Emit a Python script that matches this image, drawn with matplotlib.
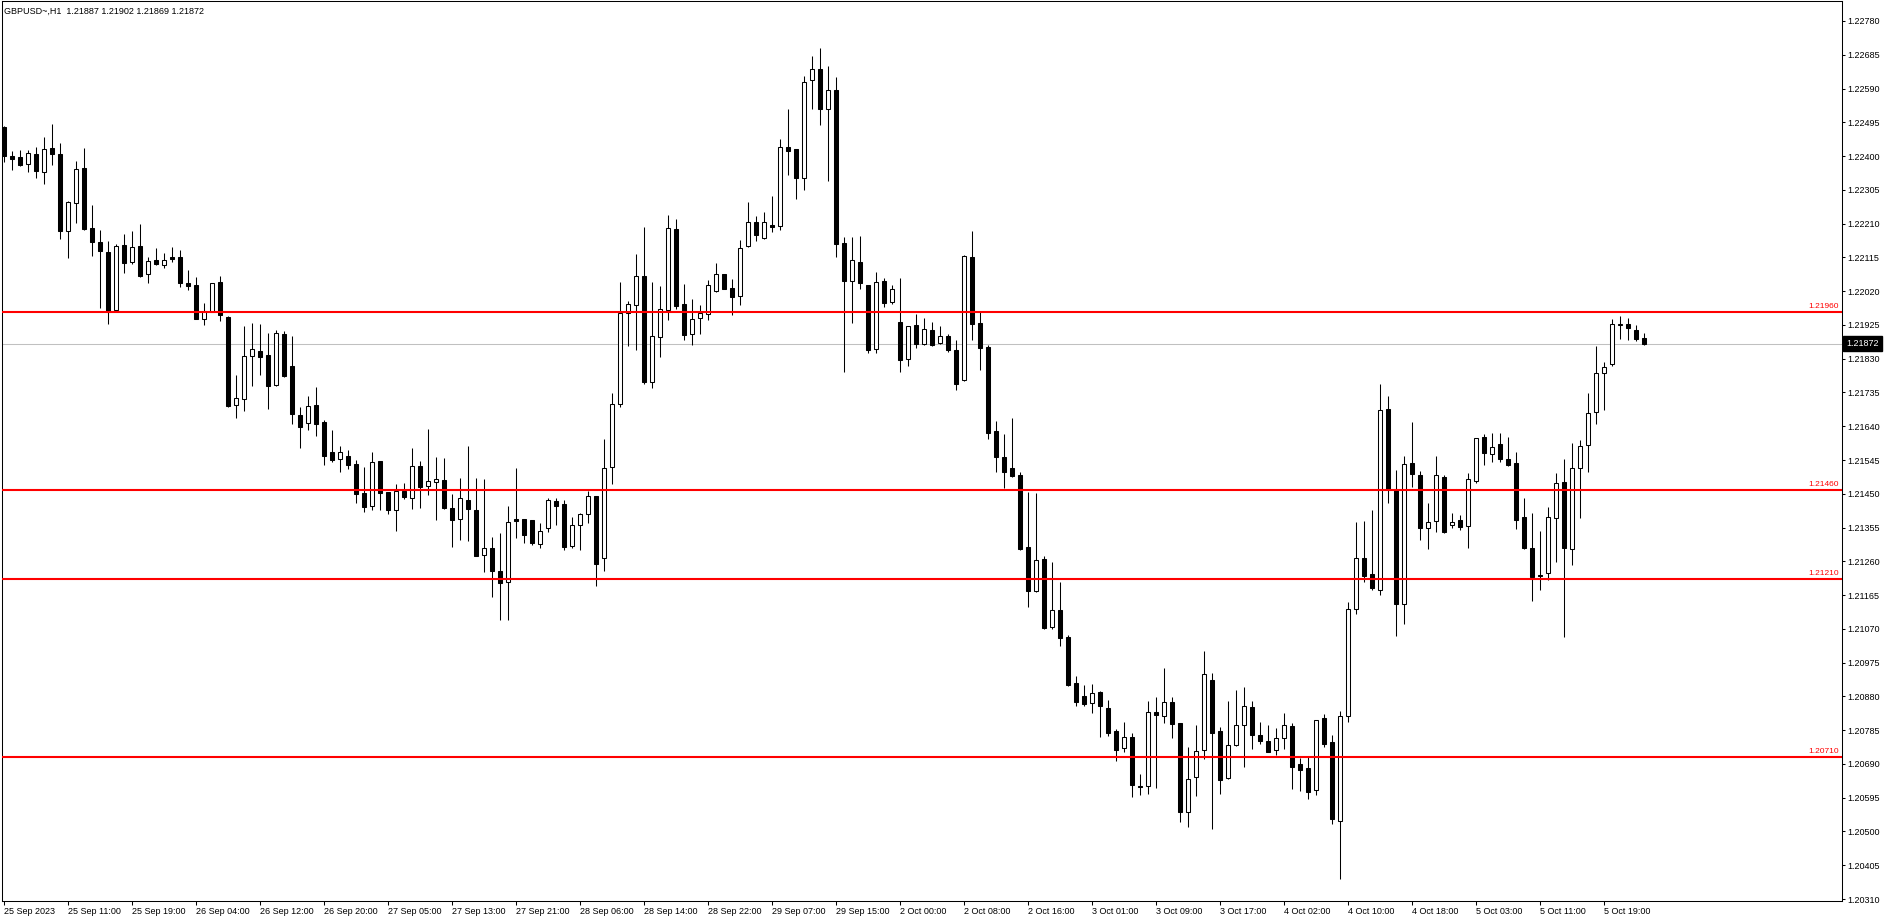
import matplotlib
matplotlib.use('Agg')
import matplotlib.pyplot as plt
import matplotlib.transforms as mtransforms
import numpy as np

plt.rcParams['font.family'] = ['Liberation Sans', 'DejaVu Sans']

# ---- data (GBPUSD H1) ----
header = 'GBPUSD~,H1  1.21887 1.21902 1.21869 1.21872'

opens = [
    1.22482, 1.22400, 1.22397, 1.22377, 1.22406, 1.22356, 1.22423, 1.22406, 1.22190, 1.22269,
    1.22366, 1.22197, 1.22158, 1.22130, 1.21968, 1.22150, 1.22103, 1.22147, 1.22069, 1.22108,
    1.22094, 1.22116, 1.22116, 1.22043, 1.22037, 1.21941, 1.21962, 1.22046, 1.21948, 1.21699,
    1.21716, 1.21837, 1.21852, 1.21840, 1.21756, 1.21900, 1.21809, 1.21672, 1.21648, 1.21700,
    1.21652, 1.21568, 1.21547, 1.21556, 1.21534, 1.21452, 1.21416, 1.21542, 1.21455, 1.21404,
    1.21458, 1.21437, 1.21527, 1.21471, 1.21482, 1.21489, 1.21409, 1.21378, 1.21432, 1.21404,
    1.21277, 1.21297, 1.21232, 1.21201, 1.21379, 1.21379, 1.21376, 1.21310, 1.21353, 1.21430,
    1.21421, 1.21304, 1.21361, 1.21392, 1.21443, 1.21269, 1.21525, 1.21702, 1.21958, 1.21980,
    1.22063, 1.21764, 1.21890, 1.21966, 1.22195, 1.21983, 1.21900, 1.21944, 1.21957, 1.22021,
    1.22067, 1.22028, 1.22006, 1.22146, 1.22214, 1.22170, 1.22206, 1.22202, 1.22425, 1.22420,
    1.22339, 1.22613, 1.22644, 1.22532, 1.22585, 1.22155, 1.22048, 1.22101, 1.22037, 1.21856,
    1.22048, 1.21989, 1.21933, 1.21828, 1.21924, 1.21871, 1.21911, 1.21873, 1.21893, 1.21854,
    1.21769, 1.22116, 1.21930, 1.21863, 1.21626, 1.21553, 1.21522, 1.21503, 1.21299, 1.21177,
    1.21266, 1.21074, 1.21122, 1.21046, 1.20917, 1.20880, 1.20861, 1.20892, 1.20847, 1.20783,
    1.20734, 1.20765, 1.20628, 1.20627, 1.20836, 1.20824, 1.20863, 1.20804, 1.20556, 1.20652,
    1.20728, 1.20925, 1.20782, 1.20650, 1.20742, 1.20799, 1.20849, 1.20771, 1.20755, 1.20728,
    1.20762, 1.20796, 1.20690, 1.20679, 1.20616, 1.20818, 1.20751, 1.20529, 1.20824, 1.21125,
    1.21269, 1.21224, 1.21178, 1.21689, 1.21463, 1.21141, 1.21537, 1.21503, 1.21353, 1.21373,
    1.21497, 1.21361, 1.21376, 1.21359, 1.21487, 1.21610, 1.21561, 1.21590, 1.21547, 1.21537,
    1.21385, 1.21297, 1.21222, 1.21226, 1.21381, 1.21483, 1.21296, 1.21522, 1.21586, 1.21679,
    1.21789, 1.21814, 1.21925, 1.21928, 1.21912, 1.21887,
]
highs = [
    1.22485, 1.22414, 1.22418, 1.22417, 1.22426, 1.22454, 1.22490, 1.22437, 1.22274, 1.22386,
    1.22423, 1.22262, 1.22191, 1.22161, 1.22153, 1.22181, 1.22189, 1.22209, 1.22116, 1.22141,
    1.22127, 1.22144, 1.22136, 1.22080, 1.22060, 1.21988, 1.22043, 1.22063, 1.21950, 1.21784,
    1.21922, 1.21930, 1.21928, 1.21901, 1.21911, 1.21909, 1.21894, 1.21694, 1.21725, 1.21750,
    1.21657, 1.21629, 1.21584, 1.21573, 1.21545, 1.21525, 1.21568, 1.21543, 1.21456, 1.21477,
    1.21479, 1.21578, 1.21542, 1.21631, 1.21553, 1.21550, 1.21449, 1.21494, 1.21584, 1.21494,
    1.21492, 1.21328, 1.21339, 1.21415, 1.21522, 1.21380, 1.21377, 1.21367, 1.21437, 1.21437,
    1.21433, 1.21384, 1.21396, 1.21458, 1.21444, 1.21604, 1.21734, 1.22046, 1.21992, 1.22125,
    1.22201, 1.22046, 1.22035, 1.22234, 1.22223, 1.22039, 1.21997, 1.21980, 1.22051, 1.22099,
    1.22068, 1.22053, 1.22163, 1.22271, 1.22231, 1.22243, 1.22288, 1.22448, 1.22532, 1.22421,
    1.22625, 1.22682, 1.22704, 1.22653, 1.22622, 1.22172, 1.22172, 1.22175, 1.22038, 1.22074,
    1.22056, 1.22038, 1.22056, 1.21923, 1.21955, 1.21944, 1.21933, 1.21922, 1.21899, 1.21883,
    1.22122, 1.22189, 1.21961, 1.21869, 1.21655, 1.21618, 1.21663, 1.21510, 1.21455, 1.21452,
    1.21275, 1.21258, 1.21203, 1.21053, 1.20937, 1.20912, 1.20915, 1.20895, 1.20870, 1.20788,
    1.20808, 1.20776, 1.20662, 1.20867, 1.20878, 1.20960, 1.20878, 1.20805, 1.20738, 1.20800,
    1.21008, 1.20946, 1.20793, 1.20867, 1.20898, 1.20906, 1.20867, 1.20808, 1.20800, 1.20791,
    1.20833, 1.20805, 1.20707, 1.20710, 1.20814, 1.20830, 1.20771, 1.20839, 1.21146, 1.21371,
    1.21373, 1.21404, 1.21759, 1.21725, 1.21517, 1.21556, 1.21652, 1.21514, 1.21424, 1.21556,
    1.21503, 1.21396, 1.21390, 1.21508, 1.21607, 1.21618, 1.21621, 1.21622, 1.21610, 1.21568,
    1.21438, 1.21396, 1.21345, 1.21413, 1.21508, 1.21548, 1.21593, 1.21601, 1.21734, 1.21866,
    1.21821, 1.21942, 1.21950, 1.21945, 1.21925, 1.21902,
]
lows = [
    1.22384, 1.22362, 1.22373, 1.22356, 1.22339, 1.22322, 1.22375, 1.22168, 1.22114, 1.22213,
    1.22193, 1.22120, 1.21973, 1.21928, 1.21964, 1.22072, 1.22097, 1.22061, 1.22044, 1.22094,
    1.22086, 1.22103, 1.22033, 1.22024, 1.21941, 1.21925, 1.21960, 1.21937, 1.21694, 1.21662,
    1.21684, 1.21753, 1.21784, 1.21689, 1.21754, 1.21779, 1.21647, 1.21580, 1.21629, 1.21613,
    1.21532, 1.21539, 1.21512, 1.21520, 1.21425, 1.21400, 1.21405, 1.21405, 1.21393, 1.21346,
    1.21435, 1.21406, 1.21411, 1.21447, 1.21377, 1.21406, 1.21299, 1.21321, 1.21318, 1.21274,
    1.21230, 1.21159, 1.21095, 1.21095, 1.21326, 1.21312, 1.21306, 1.21298, 1.21343, 1.21362,
    1.21293, 1.21298, 1.21293, 1.21369, 1.21191, 1.21234, 1.21478, 1.21695, 1.21867, 1.21855,
    1.21758, 1.21747, 1.21836, 1.21940, 1.21970, 1.21883, 1.21868, 1.21900, 1.21940, 1.22019,
    1.22025, 1.21952, 1.21982, 1.22145, 1.22160, 1.22168, 1.22187, 1.22193, 1.22348, 1.22280,
    1.22305, 1.22533, 1.22487, 1.22329, 1.22115, 1.21793, 1.21931, 1.22027, 1.21847, 1.21847,
    1.21975, 1.21985, 1.21793, 1.21810, 1.21861, 1.21869, 1.21865, 1.21871, 1.21850, 1.21743,
    1.21766, 1.21883, 1.21799, 1.21603, 1.21512, 1.21467, 1.21496, 1.21293, 1.21131, 1.21174,
    1.21070, 1.21070, 1.21023, 1.20910, 1.20854, 1.20854, 1.20834, 1.20767, 1.20769, 1.20699,
    1.20724, 1.20598, 1.20603, 1.20605, 1.20623, 1.20805, 1.20764, 1.20528, 1.20513, 1.20601,
    1.20705, 1.20508, 1.20606, 1.20648, 1.20740, 1.20681, 1.20733, 1.20747, 1.20723, 1.20716,
    1.20733, 1.20620, 1.20615, 1.20592, 1.20603, 1.20738, 1.20522, 1.20365, 1.20808, 1.21113,
    1.21203, 1.21180, 1.21166, 1.21425, 1.21051, 1.21085, 1.21469, 1.21321, 1.21296, 1.21343,
    1.21340, 1.21355, 1.21349, 1.21298, 1.21481, 1.21532, 1.21540, 1.21540, 1.21528, 1.21352,
    1.21295, 1.21149, 1.21180, 1.21207, 1.21259, 1.21048, 1.21249, 1.21381, 1.21512, 1.21647,
    1.21686, 1.21810, 1.21886, 1.21883, 1.21881, 1.21869,
]
closes = [
    1.22401, 1.22393, 1.22375, 1.22409, 1.22359, 1.22420, 1.22407, 1.22190, 1.22270, 1.22364,
    1.22196, 1.22159, 1.22134, 1.21962, 1.22146, 1.22100, 1.22143, 1.22064, 1.22105, 1.22097,
    1.22107, 1.22110, 1.22044, 1.22035, 1.21943, 1.21963, 1.22043, 1.21954, 1.21697, 1.21719,
    1.21837, 1.21857, 1.21836, 1.21754, 1.21901, 1.21782, 1.21675, 1.21639, 1.21697, 1.21647,
    1.21557, 1.21546, 1.21568, 1.21532, 1.21450, 1.21414, 1.21539, 1.21453, 1.21405, 1.21458,
    1.21440, 1.21527, 1.21470, 1.21485, 1.21491, 1.21409, 1.21377, 1.21438, 1.21406, 1.21276,
    1.21297, 1.21232, 1.21200, 1.21370, 1.21374, 1.21334, 1.21312, 1.21344, 1.21432, 1.21416,
    1.21301, 1.21361, 1.21392, 1.21443, 1.21253, 1.21522, 1.21702, 1.21958, 1.21983, 1.22063,
    1.21765, 1.21893, 1.21969, 1.22197, 1.21979, 1.21898, 1.21941, 1.21959, 1.22037, 1.22067,
    1.22027, 1.22004, 1.22141, 1.22214, 1.22179, 1.22214, 1.22201, 1.22425, 1.22415, 1.22339,
    1.22608, 1.22644, 1.22533, 1.22585, 1.22152, 1.22048, 1.22107, 1.22044, 1.21855, 1.22045,
    1.21986, 1.22025, 1.21826, 1.21921, 1.21871, 1.21913, 1.21868, 1.21893, 1.21855, 1.21760,
    1.22119, 1.21928, 1.21861, 1.21622, 1.21553, 1.21512, 1.21501, 1.21296, 1.21176, 1.21263,
    1.21073, 1.21122, 1.21045, 1.20912, 1.20863, 1.20859, 1.20889, 1.20854, 1.20778, 1.20730,
    1.20766, 1.20632, 1.20624, 1.20835, 1.20827, 1.20863, 1.20803, 1.20556, 1.20647, 1.20726,
    1.20942, 1.20778, 1.20646, 1.20742, 1.20799, 1.20852, 1.20772, 1.20755, 1.20724, 1.20762,
    1.20799, 1.20682, 1.20674, 1.20612, 1.20813, 1.20747, 1.20536, 1.20824, 1.21125, 1.21269,
    1.21220, 1.21186, 1.21685, 1.21463, 1.21141, 1.21533, 1.21507, 1.21355, 1.21370, 1.21502,
    1.21343, 1.21370, 1.21357, 1.21491, 1.21606, 1.21566, 1.21581, 1.21548, 1.21532, 1.21377,
    1.21297, 1.21217, 1.21219, 1.21385, 1.21479, 1.21297, 1.21522, 1.21584, 1.21676, 1.21789,
    1.21806, 1.21927, 1.21928, 1.21916, 1.21886, 1.21872,
]

time_labels = [
    '25 Sep 2023', '25 Sep 11:00', '25 Sep 19:00', '26 Sep 04:00', '26 Sep 12:00',
    '26 Sep 20:00', '27 Sep 05:00', '27 Sep 13:00', '27 Sep 21:00', '28 Sep 06:00',
    '28 Sep 14:00', '28 Sep 22:00', '29 Sep 07:00', '29 Sep 15:00', '2 Oct 00:00',
    '2 Oct 08:00', '2 Oct 16:00', '3 Oct 01:00', '3 Oct 09:00', '3 Oct 17:00',
    '4 Oct 02:00', '4 Oct 10:00', '4 Oct 18:00', '5 Oct 03:00', '5 Oct 11:00',
    '5 Oct 19:00',
]
label_step = 8  # one time label every 8 bars

levels = [1.21960, 1.21460, 1.21210, 1.20710]
bid = 1.21872
price_ticks = [1.20310 + 0.00095 * k for k in range(27)]

# ---- figure ----
W, H = 1888, 923
fig = plt.figure(figsize=(W / 100, H / 100), dpi=100)
fig.patch.set_facecolor('white')
ax = fig.add_axes([2 / W, 22 / H, 1840 / W, 900 / H])
ax.set_facecolor('white')

# pixel calibration of the MT4 price scale
def price_at(ypx):
    return 1.22780 - (ypx - 21) / 35547.0

ax.set_ylim(price_at(901), price_at(1))
ax.set_xlim((2 - 3.5) / 8, (1842 - 3.5) / 8)

o = np.array(opens)
h = np.array(highs)
l = np.array(lows)
c = np.array(closes)
x = np.arange(len(o))
up = c >= o

LW = 0.75
ax.axhline(bid, color='#c0c0c0', lw=LW, zorder=1)
ax.vlines(x, l, h, color='black', lw=LW, zorder=2)
bot = np.minimum(o, c)
hgt = np.abs(c - o)
ax.bar(x[up], hgt[up], bottom=bot[up], width=0.5, color='white',
       edgecolor='black', linewidth=LW, zorder=3)
ax.bar(x[~up], hgt[~up], bottom=bot[~up], width=0.5, color='black',
       edgecolor='black', linewidth=LW, zorder=3)

# horizontal levels
trans = mtransforms.blended_transform_factory(ax.transAxes, ax.transData)
lab_trans = mtransforms.offset_copy(trans, fig=fig, y=2, units='dots')
for lvl in levels:
    ax.axhline(lvl, color='#ff0000', lw=1.5, zorder=4)
    ax.text(0.9985, lvl, f'{lvl:.5f}', transform=lab_trans, ha='right',
            va='bottom', fontsize=6, color='#ff0000', zorder=5)

# axes styling
for sp in ax.spines.values():
    sp.set_color('black')
    sp.set_linewidth(LW)

ax.yaxis.tick_right()
ax.set_yticks(price_ticks)
ax.set_yticklabels([f'{v:.5f}' for v in price_ticks])
ax.tick_params(axis='y', direction='out', length=2.2, width=LW, pad=1.5,
               labelsize=6.5, colors='black')

ax.set_xticks(np.arange(len(time_labels)) * label_step)
ax.set_xticklabels(time_labels)
for t in ax.get_xticklabels():
    t.set_horizontalalignment('left')
ax.tick_params(axis='x', direction='out', length=3, width=LW, pad=1,
               labelsize=6.5, colors='black')

# current price marker on the scale
ax.text(1.0 + 4 / 1840, bid, f'{bid:.5f}', transform=trans, ha='left',
        va='center', fontsize=6.5, color='white', clip_on=False, zorder=6,
        bbox=dict(boxstyle='square,pad=0.35', facecolor='black', edgecolor='black'))

fig.text(4 / W, 1 - 11 / H, header, fontsize=6.5, ha='left', va='center',
         color='black')

fig.savefig('out.png', dpi=100, facecolor='white')
plt.close(fig)
